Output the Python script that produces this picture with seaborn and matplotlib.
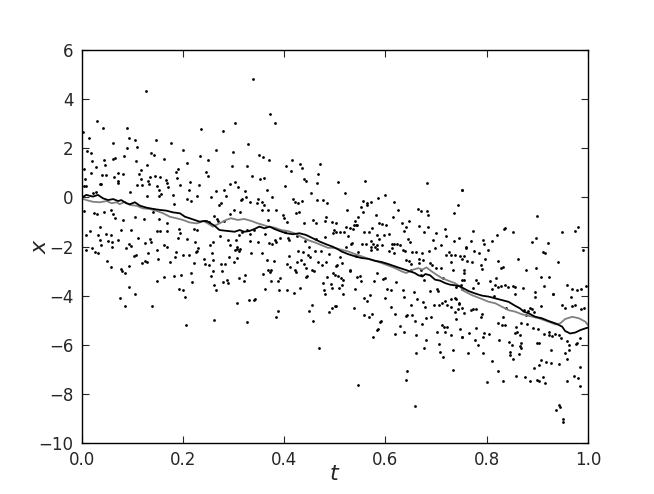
import numpy as np
import pandas as pd
import matplotlib
matplotlib.use("Agg")
import matplotlib.pyplot as plt
import seaborn as sns

obs_early_top = [
    (0.126, 4.32), (0.030, 3.12), (0.042, 2.82), (0.090, 2.82), (0.003, 2.66), (0.014, 2.40),
    (0.093, 2.42), (0.106, 2.34), (0.146, 2.34), (0.236, 2.78), (0.061, 2.21), (0.089, 2.02),
    (0.110, 2.04), (0.177, 2.20), (0.201, 1.94), (0.011, 1.87), (0.018, 1.79), (0.137, 1.80),
    (0.142, 1.71), (0.084, 1.67), (0.066, 1.60), (0.062, 1.56), (0.043, 1.50), (0.108, 1.48),
    (0.162, 1.55), (0.233, 1.69), (0.020, 1.47), (0.207, 1.38), (0.045, 1.31), (0.128, 1.31),
    (0.005, 1.14), (0.028, 1.25), (0.191, 1.14), (0.187, 1.03), (0.118, 1.12), (0.071, 0.98),
    (0.082, 0.97), (0.018, 0.98), (0.040, 0.91), (0.047, 0.91), (0.063, 0.83), (0.113, 0.94),
    (0.134, 0.84), (0.117, 0.75), (0.130, 0.68), (0.144, 0.88), (0.155, 0.83), (0.167, 0.69),
    (0.169, 0.59), (0.188, 0.77), (0.245, 1.03), (0.249, 0.87), (0.006, 0.76), (0.008, 0.48),
    (0.004, 0.48), (0.036, 0.55), (0.039, 0.53), (0.072, 0.65), (0.072, 0.59), (0.109, 0.52),
    (0.119, 0.49), (0.132, 0.55), (0.148, 0.45), (0.152, 0.30), (0.171, 0.41), (0.195, 0.49),
    (0.213, 0.63), (0.232, 0.52), (0.096, 0.22), (0.029, 0.22), (0.023, 0.17), (0.153, 0.04),
    (0.128, 0.04), (0.180, 0.11), (0.157, 0.15), (0.212, 0.30), (0.216, -0.15), (0.182, -0.26),
    (0.207, -0.07), (0.228, 0.04), (0.004, -0.57), (0.024, -0.62), (0.030, -0.66), (0.044, -0.59),
    (0.057, -0.53), (0.062, -0.66), (0.066, -0.84), (0.082, -0.92), (0.105, -0.78), (0.123, -0.87),
    (0.140, -0.58), (0.153, -0.87), (0.169, -1.06), (0.192, -1.27), (0.194, -1.46), (0.222, -1.29),
    (0.228, -1.34), (0.223, -1.83), (0.207, -1.69), (0.037, -1.20), (0.032, -1.52), (0.047, -1.48),
    (0.057, -1.52), (0.016, -1.35), (0.009, -1.52), (0.072, -1.72), (0.078, -1.31), (0.097, -1.34),
    (0.112, -1.65), (0.135, -1.69), (0.137, -1.80), (0.149, -1.35), (0.154, -1.35), (0.169, -1.38),
    (0.162, -1.92), (0.037, -1.75), (0.039, -1.92), (0.051, -1.79), (0.060, -1.82), (0.093, -1.90),
    (0.125, -1.86), (0.191, -1.64), (0.246, -0.97),
]
obs_early_low = [
    (0.009, -2.14), (0.020, -2.05), (0.026, -2.21), (0.032, -2.28), (0.059, -2.02), (0.049, -2.59),
    (0.058, -2.83), (0.078, -2.93), (0.080, -2.98), (0.085, -3.07), (0.093, -2.79), (0.088, -2.07),
    (0.097, -1.99), (0.103, -2.39), (0.107, -2.35), (0.120, -2.66), (0.125, -2.59), (0.129, -2.64),
    (0.130, -2.25), (0.149, -2.13), (0.150, -2.52), (0.169, -2.03), (0.175, -2.63), (0.184, -2.43),
    (0.187, -2.22), (0.200, -2.35), (0.212, -2.35), (0.228, -2.17), (0.230, -2.05), (0.226, -2.24),
    (0.222, -2.67), (0.241, -2.52), (0.244, -2.73), (0.216, -3.09), (0.196, -3.17), (0.182, -3.19),
    (0.163, -3.24), (0.148, -3.42), (0.217, -3.45), (0.094, -3.63), (0.105, -3.95), (0.075, -4.10),
    (0.086, -4.41), (0.139, -4.41), (0.193, -3.72), (0.200, -3.77), (0.203, -4.04), (0.205, -5.18),
]
obs_mid_top = [
    (0.338, 4.82), (0.371, 3.39), (0.381, 3.04), (0.302, 3.02), (0.279, 2.70), (0.329, 2.17),
    (0.266, 1.94), (0.298, 1.86), (0.249, 1.50), (0.351, 1.71), (0.358, 1.66), (0.369, 1.54),
    (0.297, 1.26), (0.327, 1.29), (0.403, 1.28), (0.416, 1.50), (0.431, 1.36), (0.435, 1.20),
    (0.470, 1.36), (0.413, 1.09), (0.467, 0.95), (0.337, 0.87), (0.353, 0.75), (0.361, 0.79),
    (0.440, 0.75), (0.443, 0.65), (0.465, 0.59), (0.293, 0.56), (0.302, 0.64), (0.308, 0.41),
    (0.401, 0.48), (0.265, 0.25), (0.281, 0.31), (0.284, 0.07), (0.323, 0.25), (0.325, 0.02),
    (0.316, -0.05), (0.315, -0.12), (0.332, -0.19), (0.366, 0.31), (0.376, 0.00), (0.349, -0.07),
    (0.347, -0.24), (0.357, -0.19), (0.361, -0.30), (0.255, 0.00), (0.275, -0.24), (0.272, -0.33),
    (0.300, -0.50), (0.292, -0.68), (0.313, -0.61), (0.262, -0.77), (0.252, -0.99), (0.268, -0.89),
    (0.356, -0.50), (0.368, -0.53), (0.384, -0.53), (0.417, -0.07), (0.422, -0.19), (0.428, -0.24),
    (0.436, -0.16), (0.453, 0.16), (0.465, -0.12), (0.476, -0.12), (0.484, -0.21), (0.423, -0.65),
    (0.430, -0.59), (0.397, -0.73), (0.399, -0.85), (0.405, -1.01), (0.368, -0.92), (0.439, -1.03),
    (0.457, -0.92), (0.462, -1.04), (0.483, -0.80), (0.481, -0.97), (0.495, -0.99), (0.498, -1.31),
    (0.497, -1.46), (0.480, -1.60), (0.402, -1.40), (0.407, -1.65), (0.410, -1.72), (0.381, -1.72),
    (0.392, -1.67), (0.370, -1.86), (0.376, -1.90), (0.384, -1.82), (0.332, -1.79), (0.348, -1.83),
    (0.305, -1.75), (0.307, -2.00), (0.289, -1.72), (0.292, -1.92), (0.274, -1.59), (0.259, -1.82),
    (0.253, -1.92), (0.326, -1.31), (0.341, -1.31), (0.317, -1.42), (0.332, -1.48), (0.282, -0.95),
    (0.269, -0.97), (0.311, -1.55), (0.362, -1.49), (0.442, -1.79), (0.463, -1.68), (0.425, -1.56),
]
obs_mid_low = [
    (0.258, -2.28), (0.251, -2.75), (0.260, -2.55), (0.260, -3.00), (0.256, -3.19), (0.262, -3.55),
    (0.266, -3.77), (0.262, -5.01), (0.276, -2.73), (0.283, -2.73), (0.278, -2.98), (0.280, -3.45),
    (0.286, -3.35), (0.289, -3.49), (0.290, -2.41), (0.301, -2.62), (0.307, -2.48), (0.303, -2.16),
    (0.306, -2.09), (0.311, -2.18), (0.313, -2.10), (0.310, -3.28), (0.320, -3.40), (0.322, -3.15),
    (0.306, -4.31), (0.327, -5.06), (0.330, -4.19), (0.340, -4.16), (0.343, -4.14), (0.334, -2.26),
    (0.356, -2.28), (0.365, -2.54), (0.359, -3.13), (0.362, -3.74), (0.368, -2.96), (0.374, -2.96),
    (0.372, -3.04), (0.379, -2.58), (0.374, -3.39), (0.388, -3.39), (0.391, -3.30), (0.390, -3.77),
    (0.387, -4.61), (0.383, -4.87), (0.405, -2.73), (0.409, -2.37), (0.411, -2.83), (0.406, -3.76),
    (0.420, -3.89), (0.421, -2.96), (0.423, -3.03), (0.426, -2.64), (0.427, -2.18), (0.433, -2.55),
    (0.432, -3.68), (0.437, -2.22), (0.439, -2.71), (0.443, -2.89), (0.443, -3.26), (0.445, -3.21),
    (0.447, -2.36), (0.451, -2.44), (0.449, -2.03), (0.455, -2.97), (0.459, -3.01), (0.461, -2.20),
    (0.466, -2.64), (0.472, -2.20), (0.475, -2.74), (0.482, -2.64), (0.485, -3.24), (0.476, -3.50),
    (0.479, -3.78), (0.480, -3.92), (0.492, -3.51), (0.495, -3.70), (0.497, -3.09), (0.500, -3.15),
    (0.503, -2.79), (0.489, -2.32), (0.454, -4.40), (0.449, -4.64), (0.457, -5.02), (0.468, -6.15),
    (0.494, -4.50), (0.488, -4.67), (0.501, -4.44),
]
obs_late_top = [
    (0.560, 0.68), (0.507, 0.64), (0.683, 0.59), (0.520, 0.19), (0.751, 0.30), (0.600, 0.11),
    (0.586, -0.02), (0.555, -0.16), (0.563, -0.21), (0.571, -0.20), (0.563, -0.30), (0.616, -0.17),
    (0.551, -0.38), (0.524, -0.51), (0.625, -0.50), (0.555, -0.59), (0.664, -0.46), (0.670, -0.57),
    (0.682, -0.55), (0.684, -0.73), (0.736, -0.62), (0.743, -0.32), (0.546, -0.78), (0.581, -0.73),
    (0.615, -0.80), (0.540, -0.97), (0.537, -1.11), (0.542, -1.11), (0.544, -1.11), (0.503, -1.03),
    (0.522, -1.19), (0.530, -1.25), (0.535, -1.27), (0.574, -1.25), (0.588, -1.03), (0.594, -1.07),
    (0.602, -1.11), (0.632, -1.06), (0.640, -1.20), (0.646, -0.96), (0.666, -1.18), (0.685, -1.19),
    (0.717, -1.30), (0.502, -1.42), (0.511, -1.42), (0.519, -1.39), (0.558, -1.42), (0.567, -1.42),
    (0.637, -1.37), (0.677, -1.42), (0.699, -1.46), (0.526, -1.56), (0.583, -1.52), (0.598, -1.54),
    (0.606, -1.50), (0.720, -1.56), (0.644, -1.71), (0.648, -1.83), (0.694, -1.72), (0.735, -1.79),
    (0.746, -1.67), (0.533, -1.84), (0.531, -1.88), (0.553, -1.90), (0.561, -1.88), (0.572, -1.79),
    (0.576, -1.88), (0.583, -1.92), (0.588, -1.71), (0.594, -1.92), (0.612, -1.90), (0.617, -1.90),
    (0.622, -1.90), (0.628, -1.95), (0.522, -2.01), (0.709, -1.93),
]
obs_late_low = [
    (0.545, -2.22), (0.542, -2.39), (0.571, -2.14), (0.583, -2.09), (0.580, -2.01), (0.607, -2.20),
    (0.613, -2.05), (0.617, -2.28), (0.634, -2.16), (0.639, -2.18), (0.653, -2.21), (0.660, -2.21),
    (0.672, -2.28), (0.686, -2.17), (0.697, -2.08), (0.725, -2.22), (0.730, -2.35), (0.738, -2.35),
    (0.747, -2.39), (0.752, -2.52), (0.511, -2.43), (0.505, -2.75), (0.515, -2.69), (0.529, -2.97),
    (0.530, -3.01), (0.506, -3.19), (0.512, -3.28), (0.517, -3.36), (0.514, -3.58), (0.508, -3.69),
    (0.517, -3.92), (0.502, -4.42), (0.544, -3.24), (0.552, -3.39), (0.549, -3.20), (0.540, -3.72),
    (0.557, -4.11), (0.563, -4.22), (0.569, -3.97), (0.577, -3.40), (0.596, -3.34), (0.600, -3.30),
    (0.603, -3.72), (0.610, -3.78), (0.599, -4.11), (0.583, -3.07), (0.611, -4.46), (0.618, -4.75),
    (0.538, -4.49), (0.558, -4.79), (0.567, -4.88), (0.573, -4.75), (0.591, -5.05), (0.589, -5.07),
    (0.585, -5.34), (0.583, -5.40), (0.575, -5.67), (0.620, -3.43), (0.635, -3.76), (0.636, -4.06),
    (0.641, -4.84), (0.643, -4.79), (0.653, -4.80), (0.658, -5.03), (0.650, -4.38), (0.656, -3.84),
    (0.663, -4.14), (0.671, -2.97), (0.667, -2.67), (0.675, -4.25), (0.679, -4.46), (0.680, -4.90),
    (0.673, -5.14), (0.687, -3.80), (0.689, -4.87), (0.629, -5.24), (0.636, -5.47), (0.619, -5.55),
    (0.660, -5.62), (0.680, -5.79), (0.677, -6.13), (0.661, -6.32), (0.642, -7.07), (0.640, -7.45),
    (0.658, -8.48), (0.545, -7.65), (0.696, -4.38), (0.702, -3.72), (0.702, -5.48), (0.705, -5.96),
    (0.708, -6.29), (0.714, -6.50), (0.711, -5.21), (0.716, -5.28), (0.722, -5.28), (0.717, -5.49),
    (0.729, -5.62), (0.734, -6.21), (0.734, -7.03), (0.752, -5.68), (0.748, -5.35), (0.740, -4.95),
    (0.744, -4.53), (0.738, -4.65), (0.718, -4.22), (0.712, -4.29), (0.722, -4.36), (0.705, -4.40),
    (0.730, -4.46), (0.745, -4.34), (0.740, -4.15), (0.746, -4.29), (0.737, -4.08), (0.729, -4.12),
    (0.677, -3.36), (0.650, -2.96), (0.640, -2.54), (0.647, -2.59), (0.650, -2.70), (0.670, -3.17),
    (0.667, -2.50), (0.675, -2.55), (0.691, -2.77), (0.700, -2.88), (0.710, -2.86), (0.713, -3.28),
    (0.704, -3.83), (0.688, -2.66), (0.719, -2.36), (0.729, -2.63), (0.734, -2.96), (0.756, -2.96),
    (0.756, -3.36), (0.750, -3.58), (0.740, -3.64), (0.752, -3.72), (0.571, -2.03),
]
obs_end_top = [
    (0.751, 0.31), (0.900, -0.76), (0.773, -1.35), (0.835, -1.29), (0.837, -1.23), (0.851, -1.39),
    (0.820, -1.53), (0.948, -1.39), (0.980, -1.20), (0.769, -1.79), (0.793, -1.75), (0.794, -1.88),
    (0.810, -1.79), (0.890, -1.82), (0.898, -1.66), (0.921, -1.84), (0.760, -2.02), (0.974, -1.37),
]
obs_end_low = [
    (0.760, -2.07), (0.775, -2.18), (0.785, -2.25), (0.803, -2.14), (0.756, -2.39), (0.761, -2.59),
    (0.770, -2.63), (0.756, -3.07), (0.751, -3.38), (0.779, -3.36), (0.783, -3.47), (0.773, -3.69),
    (0.791, -2.90), (0.797, -2.52), (0.789, -2.74), (0.823, -2.59), (0.828, -2.89), (0.832, -2.83),
    (0.819, -3.30), (0.806, -3.40), (0.816, -3.55), (0.822, -3.65), (0.829, -3.61), (0.837, -3.57),
    (0.843, -3.64), (0.851, -3.62), (0.855, -3.65), (0.856, -3.92), (0.861, -2.52), (0.878, -2.96),
    (0.898, -2.89), (0.911, -2.22), (0.915, -2.25), (0.907, -3.24), (0.924, -3.24), (0.940, -2.64),
    (0.914, -3.60), (0.872, -3.70), (0.895, -3.84), (0.895, -4.04), (0.930, -3.93), (0.931, -3.95),
    (0.958, -3.55), (0.969, -3.72), (0.978, -3.78), (0.987, -3.74), (0.996, -3.61), (0.991, -2.16),
    (0.966, -4.06), (0.948, -4.40), (0.954, -4.49), (0.969, -4.42), (0.975, -4.40), (0.986, -4.53),
    (0.993, -4.52), (0.908, -4.44), (0.886, -4.52), (0.890, -4.56), (0.881, -4.63), (0.873, -4.59),
    (0.893, -4.68), (0.878, -4.79), (0.868, -5.10), (0.857, -5.29), (0.855, -5.52), (0.859, -5.48),
    (0.866, -5.59), (0.868, -5.91), (0.866, -6.05), (0.868, -6.12), (0.864, -6.39), (0.839, -4.50),
    (0.836, -5.20), (0.830, -5.18), (0.822, -5.13), (0.825, -5.82), (0.845, -5.87), (0.849, -6.02),
    (0.847, -6.29), (0.851, -6.57), (0.847, -6.43), (0.811, -6.65), (0.823, -7.08), (0.833, -7.49),
    (0.858, -7.26), (0.875, -7.33), (0.886, -7.49), (0.893, -6.95), (0.903, -6.84), (0.907, -6.63),
    (0.917, -6.70), (0.928, -6.74), (0.942, -6.77), (0.911, -7.30), (0.899, -7.43), (0.904, -7.49),
    (0.916, -7.57), (0.958, -7.48), (0.972, -7.27), (0.981, -7.37), (0.984, -7.68), (0.985, -6.89),
    (0.963, -6.21), (0.955, -6.35), (0.959, -6.59), (0.928, -6.20), (0.900, -5.91), (0.903, -5.93),
    (0.913, -5.54), (0.924, -5.49), (0.929, -5.64), (0.934, -5.54), (0.942, -5.62), (0.923, -5.60),
    (0.947, -5.72), (0.959, -5.83), (0.962, -5.99), (0.976, -5.96), (0.978, -5.93), (0.985, -5.74),
    (0.880, -5.14), (0.892, -5.32), (0.901, -5.37), (0.778, -5.30), (0.766, -5.53), (0.777, -5.81),
    (0.782, -6.01), (0.793, -5.67), (0.794, -5.53), (0.804, -5.56), (0.764, -6.32), (0.793, -6.32),
    (0.752, -5.67), (0.801, -7.53), (0.832, -4.88), (0.942, -8.45), (0.944, -8.53), (0.937, -8.67),
    (0.950, -9.01), (0.951, -9.16), (0.779, -4.56), (0.788, -4.86), (0.790, -4.76), (0.772, -4.56),
    (0.769, -4.59), (0.811, -3.74), (0.814, -4.02), (0.756, -4.69), (0.751, -4.52),
]

# estimated path (black) and true path (grey)
path_black = [
    (0.000, -0.01), (0.009, 0.10), (0.022, 0.03), (0.032, 0.10), (0.042, -0.04), (0.052, -0.11),
    (0.062, -0.07), (0.072, -0.15), (0.078, -0.11), (0.088, -0.24), (0.095, -0.28), (0.105, -0.20),
    (0.115, -0.34), (0.128, -0.42), (0.141, -0.47), (0.154, -0.51), (0.167, -0.54), (0.180, -0.61),
    (0.194, -0.65), (0.204, -0.79), (0.213, -0.85), (0.223, -0.92), (0.233, -0.99), (0.243, -0.96),
    (0.249, -0.99), (0.262, -1.15), (0.272, -1.33), (0.289, -1.37), (0.302, -1.40), (0.312, -1.33),
    (0.321, -1.40), (0.331, -1.37), (0.341, -1.29), (0.351, -1.19), (0.361, -1.26), (0.371, -1.19),
    (0.381, -1.29), (0.391, -1.37), (0.404, -1.46), (0.417, -1.50), (0.430, -1.46), (0.443, -1.53),
    (0.457, -1.67), (0.470, -1.80), (0.483, -1.91), (0.496, -2.01), (0.505, -2.10), (0.513, -2.20),
    (0.526, -2.31), (0.540, -2.40), (0.553, -2.47), (0.566, -2.50), (0.579, -2.58), (0.592, -2.63),
    (0.605, -2.71), (0.619, -2.81), (0.629, -2.88), (0.638, -2.94), (0.648, -3.01), (0.658, -3.08),
    (0.665, -3.17), (0.673, -3.22), (0.679, -3.12), (0.688, -3.17), (0.698, -3.35), (0.708, -3.39),
    (0.718, -3.49), (0.727, -3.55), (0.737, -3.58), (0.747, -3.62), (0.754, -3.70), (0.764, -3.81),
    (0.777, -3.91), (0.791, -4.00), (0.804, -4.04), (0.817, -4.11), (0.830, -4.18), (0.843, -4.25),
    (0.856, -4.41), (0.866, -4.52), (0.873, -4.65), (0.883, -4.72), (0.896, -4.86), (0.909, -4.92),
    (0.922, -5.03), (0.936, -5.13), (0.949, -5.26), (0.955, -5.44), (0.965, -5.54), (0.975, -5.50),
    (0.985, -5.40), (0.995, -5.33), (1.000, -5.30),
]
path_grey = [
    (0.000, -0.04), (0.009, -0.11), (0.022, -0.18), (0.036, -0.20), (0.049, -0.15), (0.059, -0.24),
    (0.069, -0.20), (0.075, -0.28), (0.085, -0.18), (0.095, -0.31), (0.108, -0.34), (0.121, -0.45),
    (0.134, -0.47), (0.148, -0.55), (0.161, -0.65), (0.174, -0.79), (0.187, -0.85), (0.200, -0.92),
    (0.213, -1.02), (0.227, -1.06), (0.233, -1.02), (0.240, -0.96), (0.249, -1.06), (0.259, -1.19),
    (0.272, -1.06), (0.285, -0.92), (0.295, -0.85), (0.308, -0.92), (0.321, -0.88), (0.335, -0.96),
    (0.348, -1.06), (0.358, -1.12), (0.368, -1.19), (0.381, -1.23), (0.394, -1.33), (0.407, -1.37),
    (0.420, -1.46), (0.433, -1.60), (0.447, -1.74), (0.460, -1.83), (0.473, -1.94), (0.486, -2.05),
    (0.500, -2.06), (0.513, -2.13), (0.526, -2.20), (0.540, -2.31), (0.553, -2.40), (0.566, -2.50),
    (0.579, -2.58), (0.592, -2.67), (0.605, -2.77), (0.619, -2.88), (0.632, -3.01), (0.641, -3.08),
    (0.655, -2.94), (0.665, -2.88), (0.673, -2.94), (0.681, -2.85), (0.691, -3.01), (0.701, -3.15),
    (0.711, -3.28), (0.724, -3.39), (0.737, -3.49), (0.747, -3.62), (0.754, -3.80), (0.771, -3.98),
    (0.791, -4.14), (0.804, -4.25), (0.817, -4.31), (0.830, -4.45), (0.843, -4.59), (0.856, -4.65),
    (0.870, -4.76), (0.883, -4.82), (0.903, -4.92), (0.922, -5.06), (0.936, -5.17), (0.945, -5.13),
    (0.955, -4.95), (0.969, -4.86), (0.982, -4.92), (0.995, -5.06), (1.000, -5.20),
]

x_ticks = [0.0, 0.2, 0.4, 0.6, 0.8, 1.0]
y_ticks = [-10, -8, -6, -4, -2, 0, 2, 4, 6]

obs = pd.DataFrame(
    obs_early_top + obs_early_low + obs_mid_top + obs_mid_low
    + obs_late_top + obs_late_low + obs_end_top + obs_end_low,
    columns=["t", "x"],
)
black = pd.DataFrame(path_black, columns=["t", "x"])
grey = pd.DataFrame(path_grey, columns=["t", "x"])

sns.set_style("ticks")
plt.rcParams["font.family"] = ["DejaVu Sans"]
plt.rcParams["xtick.direction"] = "in"
plt.rcParams["ytick.direction"] = "in"

fig = plt.figure(figsize=(6.54, 4.94), dpi=100)
ax = fig.add_axes([0.125, 0.103, 0.774, 0.796])

sns.scatterplot(data=obs, x="t", y="x", ax=ax, color="black", s=4,
                marker="o", linewidth=0, legend=False)
sns.lineplot(data=grey, x="t", y="x", ax=ax, color="0.5", lw=1.3,
             sort=False, estimator=None)
sns.lineplot(data=black, x="t", y="x", ax=ax, color="black", lw=1.3,
             sort=False, estimator=None)

ax.set_xlim(0, 1)
ax.set_ylim(-10, 6)
ax.set_xticks(x_ticks)
ax.set_yticks(y_ticks)
ax.set_xticklabels([f"{v:.1f}" for v in x_ticks])
ax.tick_params(top=True, right=True, length=5, width=0.8, labelsize=12, pad=6)
for s in ax.spines.values():
    s.set_visible(True)
    s.set_color("black")
    s.set_linewidth(1.0)
ax.set_xlabel("$t$", fontsize=16, labelpad=-4)
ax.set_ylabel("$x$", fontsize=16, labelpad=-8)

fig.savefig("out.png", dpi=100)
